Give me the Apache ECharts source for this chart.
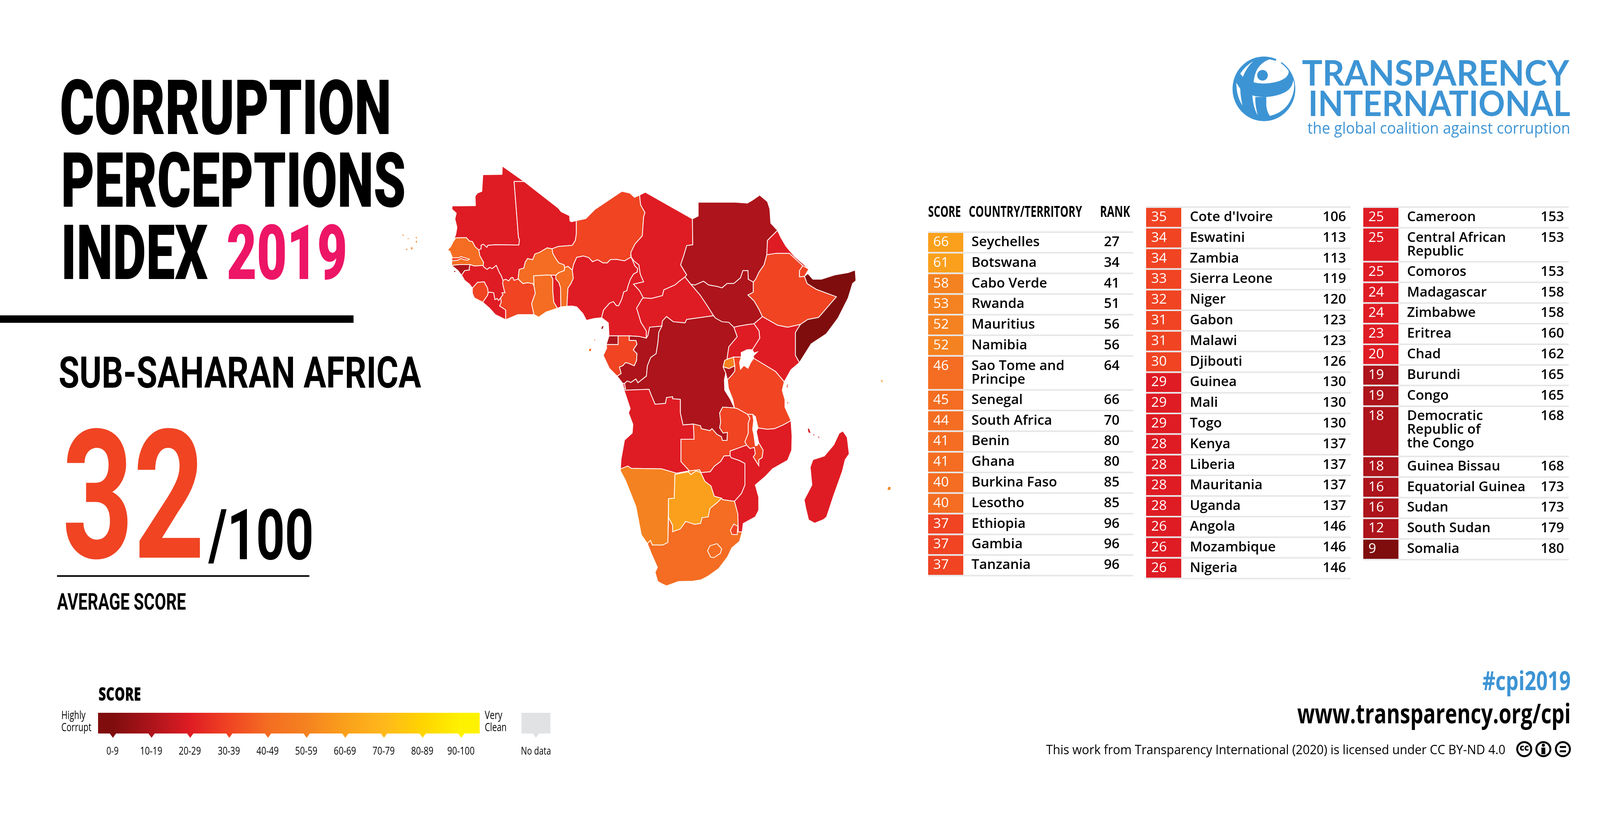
<!DOCTYPE html>
<html><head><meta charset="utf-8">
<style>html,body{margin:0;padding:0;background:#fff}#c{width:4167px;height:2083px}</style>
<script src="https://cdn.jsdelivr.net/npm/echarts@6/dist/echarts.min.js"></script>
</head><body><div id="c"></div><script>
// ---------- DATA ----------
const col1Names=["Seychelles","Botswana","Cabo Verde","Rwanda","Mauritius","Namibia","Sao Tome and\nPrincipe","Senegal","South Africa","Benin","Ghana","Burkina Faso","Lesotho","Ethiopia","Gambia","Tanzania"];
const col1Scores=[66,61,58,53,52,52,46,45,44,41,41,40,40,37,37,37];
const col1Ranks=[27,34,41,51,56,56,64,66,70,80,80,85,85,96,96,96];
const col2Names=["Cote d'Ivoire","Eswatini","Zambia","Sierra Leone","Niger","Gabon","Malawi","Djibouti","Guinea","Mali","Togo","Kenya","Liberia","Mauritania","Uganda","Angola","Mozambique","Nigeria"];
const col2Scores=[35,34,34,33,32,31,31,30,29,29,29,28,28,28,28,26,26,26];
const col2Ranks=[106,113,113,119,120,123,123,126,130,130,130,137,137,137,137,146,146,146];
const col3Names=["Cameroon","Central African\nRepublic","Comoros","Madagascar","Zimbabwe","Eritrea","Chad","Burundi","Congo","Democratic\nRepublic of\nthe Congo","Guinea Bissau","Equatorial Guinea","Sudan","South Sudan","Somalia"];
const col3Scores=[25,25,25,24,24,23,20,19,19,18,18,16,16,12,9];
const col3Ranks=[153,153,153,158,158,160,162,165,165,168,168,173,173,179,180];
const binLabels=["0-9","10-19","20-29","30-39","40-49","50-59","60-69","70-79","80-89","90-100"];
const binColors=["#7F0D0D","#AD141B","#DF1C24","#F04423","#F46D22","#F58220","#FAA01C","#FFB81C","#FFD400","#FFF200"];

// Country outlines (crop units; rings separated by |). Later entries paint over earlier ones.
const outlines={
"Mauritania":"332,61 331,90 274,91 271,149 258,155 251,166 252,199 183,200 182,211 195,225 191,245 197,274 194,297 187,322 194,311 225,310 234,322 243,324 251,342 262,353 269,349 269,337 275,333 286,344 289,337 311,335 381,336 383,317 380,310 367,115 397,115",
"Mali":"397,115 498,207 507,220 532,234 533,252 538,255 552,251 552,297 549,320 540,337 498,341 480,349 465,346 442,362 429,367 422,387 407,383 400,396 396,416 382,421 379,454 367,459 363,449 358,450 351,461 342,455 334,459 328,441 324,434 314,407 302,418 294,414 287,421 277,413 275,407 276,396 265,373 262,353 269,349 269,337 275,333 286,344 289,337 311,335 381,336 383,317 380,310 367,115",
"Senegal":"187,322 178,342 169,353 176,358 183,378 182,380 182,391 181,407 205,404 236,404 249,409 275,407 276,396 265,373 262,353 251,342 243,324 234,322 225,310 194,311",
"Gambia":"182,380 203,380 209,376 225,382 234,385 229,389 218,387 209,383 200,389 182,391",
"Guinea Bissau":"181,407 205,404 236,404 234,414 234,423 220,425 211,441 200,425 189,414|188,425 194,425 193,431 187,431",
"Guinea":"236,404 249,409 275,407 277,413 287,421 294,414 302,418 314,407 324,434 328,441 334,459 333,470 338,495 340,502 331,502 334,509 327,520 321,529 316,522 310,526 306,502 294,500 290,502 288,486 278,464 258,466 243,486 234,472 220,459 211,441 220,425 234,423 234,414",
"Sierra Leone":"243,486 258,466 278,464 288,486 290,502 288,511 274,535 249,520 243,504",
"Liberia":"290,502 294,500 306,502 310,526 316,522 321,529 327,520 329,535 324,548 342,562 342,596 311,578 294,556 274,535 288,511",
"Cote d'Ivoire":"334,459 342,455 351,461 358,450 363,449 367,459 379,454 393,470 407,467 422,470 426,477 430,504 425,520 419,540 426,578 378,578 342,596 342,562 324,548 329,535 327,520 334,509 331,502 340,502 338,495 333,470",
"Ghana":"426,477 425,443 467,440 476,441 482,454 482,495 485,535 496,556 462,569 440,587 426,578 419,540 425,520 430,504",
"Burkina Faso":"480,349 482,365 493,387 500,398 516,405 517,414 516,425 500,432 491,441 476,441 467,440 425,443 426,477 422,470 407,467 393,470 379,454 382,421 396,416 400,396 407,383 422,387 429,367 442,362 465,346",
"Togo":"476,441 491,441 491,454 500,466 505,484 506,551 496,556 485,535 482,495 482,454",
"Benin":"491,441 500,432 516,425 517,414 527,410 540,423 543,452 536,470 527,486 524,549 506,551 505,484 500,466 491,454",
"Niger":"552,251 580,244 607,212 687,149 711,155 725,170 740,162 743,196 756,223 752,238 748,304 726,333 714,362 715,378 695,391 671,386 653,387 644,398 631,398 615,387 600,394 589,380 573,374 553,379 544,403 540,423 527,410 517,414 516,405 500,398 493,387 482,365 480,349 498,341 540,337 549,320 552,297",
"Nigeria":"540,423 544,403 553,379 573,374 589,380 600,394 615,387 631,398 644,398 653,387 671,386 695,391 715,378 726,409 734,418 733,430 722,437 713,454 706,477 702,495 693,499 687,524 678,547 671,547 662,533 651,538 633,562 627,589 604,592 582,598 571,574 553,551 538,548 524,549 527,486 536,470 543,452",
"Cameroon":"627,589 633,594 647,607 649,652 676,652 709,652 738,654 760,660 760,635 744,605 733,562 731,556 747,524 751,520 740,495 722,472 752,464 742,437 738,405 724,392 715,378 726,409 734,418 733,430 722,437 713,454 706,477 702,495 693,499 687,524 678,547 671,547 662,533 651,538 633,562",
"Chad":"740,162 757,152 897,245 898,335 880,338 872,370 862,405 880,440 875,447 858,462 845,475 812,492 808,512 775,522 751,520 740,495 722,472 752,464 742,437 738,405 724,392 715,378 714,362 726,333 748,304 752,238 756,223 743,196",
"Central African\nRepublic":"751,520 775,522 808,512 812,492 845,475 858,462 875,447 893,473 920,510 940,545 960,582 940,585 880,595 875,607 840,603 820,585 808,600 806,618 770,622 765,650 760,660 760,635 744,605 733,562 731,556 747,524",
"Sudan":"897,245 914,235 914,187 1025,187 1060,190 1075,180 1097,162 1120,185 1127,210 1130,260 1150,285 1120,320 1118,370 1110,405 1095,430 1085,455 1078,465 1063,455 1062,425 1047,425 1040,450 1020,470 1000,470 985,485 970,480 945,475 930,462 905,475 893,473 875,447 880,440 862,405 872,370 880,338 898,335",
"South Sudan":"893,473 905,475 930,462 945,475 970,480 985,485 1000,470 1020,470 1040,450 1047,425 1062,425 1063,455 1078,465 1078,500 1062,510 1080,530 1095,560 1105,585 1080,610 1060,613 1035,618 1020,622 1005,605 985,603 965,590 960,582 940,545 920,510",
"Eritrea":"1150,285 1160,310 1175,340 1200,375 1225,400 1243,420 1225,408 1185,365 1145,365 1118,370 1120,320",
"Djibouti":"1225,408 1243,420 1230,445 1215,447 1215,425",
"Ethiopia":"1078,465 1085,455 1095,430 1110,405 1118,370 1145,365 1185,365 1225,408 1215,425 1215,447 1230,445 1238,470 1265,490 1325,516 1272,588 1240,595 1218,612 1180,622 1150,615 1105,585 1095,560 1080,530 1062,510 1078,500",
"Somalia":"1230,445 1240,435 1255,455 1280,455 1320,440 1360,432 1381,423 1383,460 1373,470 1360,520 1330,590 1295,645 1250,680 1215,745 1203,720 1203,640 1218,612 1240,595 1272,588 1325,516 1265,490 1238,470",
"Kenya":"1105,585 1150,615 1180,622 1218,612 1203,640 1203,720 1215,745 1190,770 1170,812 1144,776 1079,730 1078,722 1090,708 1080,712 1075,700 1097,660 1095,635 1080,610",
"Uganda":"1080,610 1095,635 1097,660 1075,700 1060,700 1042,710 1042,726 1019,726 1001,733 1000,730 1005,690 1030,655 1020,622 1035,618 1060,613",
"Rwanda":"1019,726 1023,756 1006,766 988,760 993,737 1001,733",
"Burundi":"988,760 1006,766 1023,756 1023,775 1014,789 1001,805 996,782",
"Tanzania":"1019,726 1042,726 1037,745 1040,768 1050,755 1062,765 1070,745 1079,730 1144,776 1170,812 1164,841 1172,874 1172,900 1190,947 1167,962 1141,975 1120,977 1094,973 1092,972 1084,933 1076,925 1061,925 1030,905 1022,903 1017,874 1004,835 1001,805 1014,789 1023,775 1023,756|1178,818 1182,822 1180,835 1176,832|1178,880 1184,882 1178,895",
"Democratic\nRepublic of\nthe Congo":"960,582 965,590 985,603 1005,605 1020,622 1030,655 1005,690 1000,730 1001,733 993,737 988,760 996,782 992,805 993,841 1009,871 1022,903 987,900 978,920 981,952 978,972 988,990 1001,988 1000,1016 986,1016 983,1003 970,995 955,975 949,982 923,975 921,965 900,959 869,962 861,920 861,873 838,871 838,864 820,867 817,887 786,890 773,854 768,838 693,841 693,835 698,836 695,818 703,809 714,814 729,802 735,815 760,792 763,756 773,727 789,714 794,678 797,639 806,618 808,600 820,585 840,603 875,607 880,595 940,585",
"Congo":"806,618 770,622 765,650 760,660 738,654 709,652 709,668 729,668 732,681 721,701 732,714 731,737 724,756 706,747 698,745 690,756 680,760 685,783 673,792 690,818 695,818 703,809 714,814 729,802 735,815 760,792 763,756 773,727 789,714 794,678 797,639",
"Gabon":"676,652 709,652 709,668 729,668 732,681 721,701 732,714 731,737 724,756 706,747 698,745 690,756 680,760 685,783 673,792 650,765 632,720 642,695 641,682 676,682",
"Equatorial Guinea":"649,652 676,652 676,682 641,682|627,618 634,616 632,628 625,630",
"Sao Tome and\nPrincipe":"590,698 596,696 595,705 590,705|605,665 608,665 607,670",
"Angola":"693,841 768,838 773,854 786,890 817,887 820,867 838,864 838,871 861,873 861,920 869,962 900,959 902,1012 863,1012 863,1090 888,1122 850,1130 805,1115 715,1113 705,1105 683,1115 685,1080 695,1015 718,990 720,960 707,920 712,905 695,845|690,818 695,818 698,836 693,835",
"Zambia":"900,959 921,965 923,975 949,982 955,975 970,995 983,1003 986,1016 1000,1016 1001,988 988,990 978,972 981,952 978,920 987,900 1022,903 1030,905 1061,925 1068,939 1063,955 1063,991 1053,1021 1058,1032 1009,1053 1009,1069 991,1070 981,1089 962,1106 950,1125 922,1128 918,1118 888,1122 863,1090 863,1012 902,1012",
"Namibia":"683,1115 705,1105 715,1113 805,1115 850,1130 888,1122 918,1118 922,1128 908,1122 892,1135 885,1125 845,1134 843,1217 826,1219 824,1371 809,1380 778,1380 772,1364 763,1375 745,1344 729,1246 698,1155 683,1122",
"Botswana":"845,1134 885,1125 892,1135 908,1122 922,1128 934,1158 952,1174 962,1210 984,1217 970,1233 949,1253 944,1282 926,1285 921,1305 903,1308 877,1298 861,1324 838,1334 838,1311 826,1285 826,1219 843,1217",
"Zimbabwe":"922,1128 950,1125 962,1106 981,1089 991,1070 1009,1069 1012,1076 1037,1086 1053,1096 1053,1142 1053,1171 1043,1200 1022,1228 986,1222 984,1217 962,1210 952,1174 934,1158",
"Mozambique":"1190,947 1193,1000 1192,1050 1180,1085 1135,1115 1115,1140 1084,1171 1094,1213 1094,1259 1084,1282 1048,1305 1045,1334 1033,1334 1032,1272 1022,1228 1043,1200 1053,1171 1053,1096 1037,1086 1012,1076 1009,1069 1009,1053 1058,1032 1068,1044 1081,1040 1084,1063 1078,1073 1094,1103 1094,1083 1104,1076 1107,1050 1094,1024 1087,985 1092,972 1094,973 1120,977 1141,975 1167,962",
"Malawi":"1061,925 1068,939 1063,955 1063,991 1053,1021 1058,1032 1068,1044 1081,1040 1084,1063 1078,1073 1094,1103 1094,1083 1104,1076 1107,1050 1094,1024 1089,1034 1084,1034 1079,992 1076,978 1079,946 1076,925",
"South Africa":"763,1375 772,1364 778,1380 809,1380 824,1371 826,1285 838,1311 838,1334 861,1324 877,1298 903,1308 921,1305 926,1285 944,1282 949,1253 970,1233 984,1217 986,1222 1022,1228 1032,1272 1033,1334 1045,1334 1037,1367 1014,1390 1001,1422 975,1462 944,1488 923,1501 898,1506 856,1507 820,1522 810,1517 794,1507 786,1475 793,1458 776,1413",
"Eswatini":"1020,1307 1032,1315 1030,1344 1014,1343 1010,1328",
"Lesotho":"970,1375 984,1393 980,1409 961,1424 951,1422 942,1400 949,1383",
"Madagascar":"1344,983 1357,1005 1363,1063 1351,1083 1343,1122 1317,1207 1296,1282 1286,1292 1260,1304 1242,1292 1234,1253 1229,1223 1252,1171 1247,1109 1255,1083 1289,1070 1317,1031 1333,991",
"Comoros":"1240,975 1244,975 1248,990 1242,988|1256,994 1260,996 1258,1000|1271,1002 1274,1003 1273,1010",
"Mauritius":"1479,1178 1486,1178 1485,1188 1477,1188",
"Seychelles":"1457,806 1462,806 1461,816",
"Cabo Verde":"33,300 38,300 40,305|50,312 55,313 52,316|74,308 78,308 77,315|74,322 79,322 77,329|45,350 50,349 48,355|59,345 65,344 64,353"
};
// crop units per page pixel along each axis
const unitsPerPxX=1.161, unitsPerPxY=1.36, cropLeft=1000, cropTop=380;

// ---------- HELPERS ----------
const allNames=[...col1Names,...col2Names,...col3Names], allScores=[...col1Scores,...col2Scores,...col3Scores];
const colorOf=s=>binColors[Math.min(9,Math.floor(s/10))];
const meas=document.createElement('canvas').getContext('2d');
const g=[];
function T(text,x,cy,o){
  const size=o.size,fam=o.family||'Open Sans',wt=o.weight||400,align=o.align||'left';
  let sx=1;
  if(o.w){meas.font=`${wt} ${size}px "${fam}"`;sx=o.w/meas.measureText(text).width;}
  const yy=cy+(fam==='Roboto'?size*0.1:0);
  g.push({type:'text',x:x,y:yy,scaleX:sx,z:o.z||5,style:{text:text,fontFamily:fam,fontWeight:wt,fontSize:size,fill:o.color||'#000',align:align,verticalAlign:'middle'}});
}
function R(x,y,w,h,fill,z){g.push({type:'rect',shape:{x,y,width:w,height:h},z:z||3,style:{fill}});}

// ---------- LEFT TEXT ----------
const HF='Roboto',HW=900;
T('CORRUPTION',153,275,{size:194,family:HF,weight:HW,w:849});
T('PERCEPTIONS',156,461,{size:194,family:HF,weight:HW,w:883});
T('INDEX',156,646,{size:194,family:HF,weight:HW,w:376});
T('2019',580,646,{size:194,family:HF,weight:HW,w:309,color:'#ED1566'});
R(0,807,905,19,'#000');
T('SUB-SAHARAN AFRICA',150,953,{size:112,family:HF,weight:700,w:928});
T('32',159,1266,{size:460,family:HF,weight:700,w:365,color:'#F04423'});
T('/100',534,1368,{size:180,family:HF,weight:700,w:269});
R(146,1472,646,4,'#000');
T('AVERAGE SCORE',146,1539,{size:60,family:HF,weight:700,w:330});

// ---------- TABLE ----------
const colGeom=[
 {names:col1Names,scores:col1Scores,ranks:col1Ranks,x:2376,top:592,nameX:2487,rankX:2826,end:2901},
 {names:col2Names,scores:col2Scores,ranks:col2Ranks,x:2934,top:528,nameX:3046,rankX:3386,end:3458},
 {names:col3Names,scores:col3Scores,ranks:col3Ranks,x:3490,top:528,nameX:3602,rankX:3944,end:4016}];
const rowH=[0,52.8,87,128.5];
colGeom.forEach(c=>{
  let y=c.top;
  c.names.forEach((n,i)=>{
    const lines=n.split('\n'),h=rowH[lines.length];
    R(c.x,y,c.end-c.x,4,'#E6E7E8');
    R(c.x,y+4,90,h-4,colorOf(c.scores[i]));
    T(String(c.scores[i]),c.x+13,y+28,{size:35,weight:400,color:'#fff'});
    lines.forEach((l,k)=>T(l,c.nameX,y+28+k*35,{size:35,weight:600}));
    T(String(c.ranks[i]),c.rankX,y+28,{size:35,weight:600});
    y+=h;
  });
  R(c.x,y,c.end-c.x,4,'#E6E7E8');
});
T('SCORE',2376,544,{size:40,weight:700,w:84});
T('COUNTRY/TERRITORY',2480,544,{size:40,weight:700,w:290});
T('RANK',2816,544,{size:40,weight:700,w:77});

// ---------- LEGEND ----------
T('SCORE',252,1779,{size:48,weight:800,w:109});
const ticks=[289,388,487,587,686,785,884,983,1082,1181];
const barX=251,barW=977;
const stops=[{offset:0,color:binColors[0]}];
ticks.forEach((t,i)=>stops.push({offset:(t-barX)/barW,color:binColors[i]}));
stops.push({offset:1,color:binColors[9]});
g.push({type:'rect',shape:{x:barX,y:1824,width:barW,height:53},z:3,style:{fill:{type:'linear',x:0,y:0,x2:1,y2:0,colorStops:stops}}});
const pin=(x,c)=>g.push({type:'polygon',shape:{points:[[x-8,1877],[x+8,1877],[x,1888]]},z:3,style:{fill:c}});
ticks.forEach((t,i)=>{pin(t,binColors[i]);T(binLabels[i],t-1,1923,{size:27,weight:400,align:'center',w:binLabels[i].length>5?70:(binLabels[i].length>3?57:31)});});
R(1335,1824,74,53,'#E1E2E4');pin(1372,'#E1E2E4');
T('No data',1372,1923,{size:27,weight:400,align:'center',w:77});
T('Highly',157,1832,{size:29,weight:400,w:62});
T('Corrupt',157,1863,{size:29,weight:400,w:77});
T('Very',1241,1832,{size:29,weight:400,w:45});
T('Clean',1241,1863,{size:29,weight:400,w:56});

// ---------- LOGO ----------
const BLUE='#3D94D4';
const LG={x:3150,y:140,scaleX:1/3,scaleY:1/3,z:4};
g.push({...LG,type:'ellipse',shape:{cx:257,cy:262,rx:241,ry:248},style:{fill:BLUE}});
[
 'M175,50 Q115,85 75,145 L95,170 Q125,95 175,50 Z',
 'M300,35 L350,47 L352,30 L392,48 L388,65 Q425,92 447,125 Q450,150 425,175 Q380,210 300,218 Q235,226 178,212 Q185,130 225,85 Q255,50 300,35 Z',
 'M482,195 Q478,240 445,270 Q390,315 275,325 L275,390 Q280,440 303,470 Q390,450 440,385 Q490,310 490,230 Q488,210 482,195 Z',
 'M168,312 Q210,325 275,325 L190,325 Q190,400 210,465 Q175,410 168,312 Z',
 'M45,215 L75,262 Q78,335 93,390 Q45,320 45,215 Z'
].forEach((p,i)=>{
  const nm='logoCut'+i;
  echarts.graphic.registerShape(nm,echarts.graphic.extendPath(p,{}));
  g.push({...LG,type:nm,z:5,style:{fill:'#fff'}});
});
g.push({...LG,z:6,type:'circle',shape:{cx:246,cy:158,r:41},style:{fill:BLUE}});
T('TRANSPARENCY',3333,190,{size:90,family:'Lato',weight:700,w:684,color:BLUE});
T('INTERNATIONAL',3349,268,{size:90,family:'Lato',weight:700,w:671,color:BLUE});
T('the global coalition against corruption',3347,331,{size:40,weight:400,w:673,color:BLUE});

// ---------- FOOTER ----------
T('#cpi2019',4021,1747,{size:66,weight:700,w:226,color:BLUE,align:'right'});
T('www.transparency.org/cpi',4021,1831,{size:70,weight:700,w:700,align:'right'});
T('This work from Transparency International (2020) is licensed under CC BY-ND 4.0',3854,1921,{size:32,weight:400,w:1176,align:'right'});
[3902,3951,4001].forEach(x=>g.push({type:'circle',shape:{cx:x,cy:1917,r:18},z:4,style:{fill:'#fff',stroke:'#000',lineWidth:5}}));
T('cc',3902,1915,{size:22,weight:800,align:'center',z:6});
g.push({type:'circle',shape:{cx:3951,cy:1907,r:4},z:6,style:{fill:'#000'}});
R(3946,1913,10,17,'#000',6);R(3993,1909,16,5,'#000',6);R(3993,1920,16,5,'#000',6);

// ---------- MAP ----------
const parseRing=s=>{const r=s.trim().split(/\s+/).map(p=>p.split(',').map(Number));r.push(r[0].slice());return r;};
const features=Object.keys(outlines).map(k=>({type:'Feature',properties:{name:k.replace(/\n/g,' ')},
  geometry:{type:'MultiPolygon',coordinates:outlines[k].split('|').map(s=>[parseRing(s)])}}));
echarts.registerMap('africa',{type:'FeatureCollection',features});
let x0=1e9,x1=-1e9,y0=1e9,y1=-1e9;
features.forEach(f=>f.geometry.coordinates.forEach(pl=>pl[0].forEach(([a,b])=>{x0=Math.min(x0,a);x1=Math.max(x1,a);y0=Math.min(y0,b);y1=Math.max(y1,b);})));
const wPx=(x1-x0)/unitsPerPxX,hPx=(y1-y0)/unitsPerPxY;
const tinyIslands=new Set(['Cabo Verde','Mauritius','Seychelles','Comoros','Sao Tome and Principe']);
const mapData=allNames.map((n,i)=>{const name=n.replace(/\n/g,' ');
  const d={name,value:allScores[i]};
  if(tinyIslands.has(name))d.itemStyle={borderWidth:0};
  return d;});

const chart=echarts.init(document.getElementById('c'),null,{renderer:'canvas',width:4167,height:2083});
chart.setOption({
  animation:false,backgroundColor:'#fff',
  visualMap:{show:false,type:'piecewise',seriesIndex:0,
    pieces:binColors.map((c,i)=>({min:i*10,max:i==9?100:i*10+9.99,color:c}))},
  series:[{type:'map',map:'africa',roam:false,silent:true,
    projection:{project:p=>[p[0]/unitsPerPxX,p[1]/unitsPerPxY],unproject:p=>[p[0]*unitsPerPxX,p[1]*unitsPerPxY]},
    layoutCenter:[cropLeft+(x0+x1)/2/unitsPerPxX,cropTop+(y0+y1)/2/unitsPerPxY],
    layoutSize:Math.max(wPx,hPx),
    label:{show:false},emphasis:{disabled:true},select:{disabled:true},
    itemStyle:{borderColor:'#fff',borderWidth:2,areaColor:'#fff'},
    data:mapData}],
  graphic:{elements:g}
});
</script></body></html>
